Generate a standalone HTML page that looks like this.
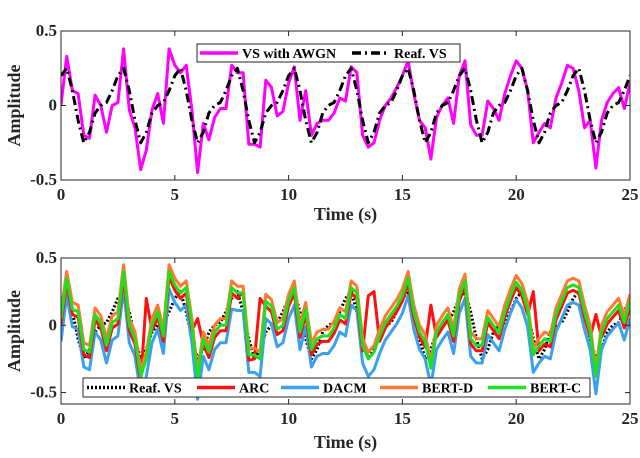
<!DOCTYPE html>
<html><head><meta charset="utf-8">
<style>
html,body{margin:0;padding:0;background:#fff;}
svg{display:block;font-family:"Liberation Serif",serif;font-weight:bold;}
</style></head>
<body>
<svg id="chart" width="640" height="458" viewBox="0 0 640 458" xmlns="http://www.w3.org/2000/svg"></svg>
<script>
const refVS = [0.20,0.25,0.10,-0.10,-0.25,-0.18,-0.05,0.00,0.02,0.10,
0.20,0.25,0.10,-0.10,-0.25,-0.18,-0.05,0.00,0.02,0.10,
0.20,0.25,0.10,-0.10,-0.25,-0.18,-0.05,0.00,0.02,0.10,
0.20,0.25,0.10,-0.10,-0.25,-0.18,-0.05,0.00,0.02,0.10,
0.20,0.25,0.10,-0.10,-0.25,-0.18,-0.05,0.00,0.02,0.10,
0.20,0.25,0.10,-0.10,-0.25,-0.18,-0.05,0.00,0.02,0.10,
0.20,0.25,0.10,-0.10,-0.25,-0.18,-0.05,0.00,0.02,0.10,
0.20,0.25,0.10,-0.10,-0.25,-0.18,-0.05,0.00,0.02,0.10,
0.20,0.25,0.10,-0.10,-0.25,-0.18,-0.05,0.00,0.02,0.10,
0.20,0.25,0.10,-0.10,-0.25,-0.18,-0.05,0.00,0.02,0.10,0.20];
const awgn = [0.00,0.33,0.10,0.08,-0.20,-0.22,0.07,0.00,-0.18,0.00,
0.02,0.38,-0.03,-0.15,-0.43,-0.30,-0.03,0.08,-0.12,0.38,
0.27,0.22,0.27,-0.03,-0.45,-0.12,-0.23,-0.08,-0.02,-0.02,
0.27,0.22,0.22,-0.26,-0.26,-0.28,0.17,0.12,-0.07,-0.04,
0.15,0.26,-0.10,0.10,-0.20,-0.12,-0.10,-0.10,-0.05,0.05,
0.03,0.26,0.22,-0.20,-0.28,-0.25,-0.10,0.00,0.05,0.12,
0.20,0.30,0.08,-0.10,-0.15,-0.36,-0.08,0.00,0.05,-0.12,
0.20,0.30,-0.13,-0.20,-0.20,0.03,-0.02,-0.10,0.08,0.20,
0.30,0.25,0.10,-0.25,-0.18,-0.12,-0.15,0.05,0.15,0.27,
0.25,0.10,-0.15,-0.10,-0.42,-0.10,0.02,0.08,0.12,-0.02,0.15];
const bertC = [0.05,0.35,0.12,0.10,-0.18,-0.20,0.08,0.02,-0.15,0.02,
0.05,0.40,0.00,-0.10,-0.38,-0.25,0.00,0.10,-0.08,0.40,
0.30,0.24,0.28,0.00,-0.40,-0.10,-0.20,-0.05,0.00,0.00,
0.28,0.24,0.24,-0.22,-0.22,-0.25,0.18,0.14,-0.03,0.00,
0.18,0.28,-0.05,0.12,-0.18,-0.10,-0.08,-0.08,-0.02,0.08,
0.05,0.28,0.24,-0.15,-0.25,-0.20,-0.08,0.02,0.08,0.14,
0.22,0.35,0.10,-0.05,-0.12,-0.32,-0.05,0.02,0.08,-0.08,
0.22,0.33,-0.10,-0.15,-0.15,0.06,0.00,-0.06,0.10,0.22,
0.32,0.26,0.12,-0.22,-0.15,-0.10,-0.12,0.08,0.18,0.28,
0.30,0.28,0.10,-0.05,-0.38,-0.05,0.05,0.10,0.15,0.02,0.18];
const bertD = [0.10,0.40,0.17,0.15,-0.13,-0.15,0.13,0.07,-0.10,0.07,
0.10,0.45,0.05,-0.05,-0.33,-0.20,0.05,0.15,-0.03,0.45,
0.35,0.29,0.33,0.05,-0.35,-0.05,-0.15,0.00,0.05,0.05,
0.33,0.29,0.29,-0.17,-0.17,-0.20,0.23,0.19,0.02,0.05,
0.23,0.33,0.00,0.17,-0.13,-0.05,-0.03,-0.03,0.03,0.13,
0.10,0.33,0.29,-0.10,-0.20,-0.15,-0.03,0.07,0.13,0.19,
0.27,0.40,0.15,0.00,-0.07,-0.27,0.00,0.07,0.13,-0.03,
0.27,0.38,-0.05,-0.10,-0.10,0.11,0.05,-0.01,0.15,0.27,
0.37,0.31,0.17,-0.17,-0.10,-0.05,-0.07,0.13,0.23,0.33,
0.35,0.33,0.15,0.00,-0.33,0.00,0.10,0.15,0.20,0.07,0.23];
const arc = [0.01,0.31,0.08,0.06,-0.22,-0.24,0.04,-0.02,-0.19,-0.02,
0.01,0.36,-0.04,-0.14,-0.42,0.20,-0.04,0.06,-0.12,0.36,
0.26,0.20,0.24,-0.04,0.05,-0.14,-0.24,-0.09,-0.04,-0.04,
0.24,0.20,0.25,-0.26,-0.25,0.20,0.14,0.10,-0.07,-0.04,
0.14,0.24,-0.09,0.08,-0.22,-0.14,-0.12,-0.12,-0.06,0.04,
0.01,0.24,0.20,-0.19,0.22,0.25,-0.12,-0.02,0.04,0.10,
0.18,0.31,0.06,-0.09,-0.16,0.15,-0.09,-0.02,0.04,-0.12,
0.18,0.29,-0.14,-0.19,-0.19,0.02,-0.04,-0.10,0.06,0.18,
0.28,0.22,0.08,0.25,-0.19,-0.14,-0.16,0.04,0.14,0.24,
0.26,0.24,0.06,-0.09,0.08,-0.09,0.01,0.06,0.11,-0.02,0.14];
const dacm = [-0.12,0.22,-0.01,-0.03,-0.31,-0.33,-0.05,-0.11,-0.28,-0.11,
-0.08,0.27,-0.13,-0.23,-0.51,-0.38,-0.13,-0.03,-0.21,0.27,
0.17,0.11,0.15,-0.13,-0.55,-0.23,-0.33,-0.18,-0.13,-0.13,
0.12,0.11,0.11,-0.35,-0.35,-0.38,0.05,0.01,-0.16,-0.13,
0.05,0.15,-0.18,-0.01,-0.31,-0.23,-0.21,-0.21,-0.15,-0.05,
-0.08,0.15,0.11,-0.28,-0.38,-0.33,-0.21,-0.11,-0.05,0.01,
0.09,0.22,-0.03,-0.18,-0.25,-0.45,-0.18,-0.11,-0.05,-0.21,
0.09,0.20,-0.23,-0.28,-0.28,-0.07,-0.13,-0.19,-0.03,0.09,
0.19,0.13,-0.01,-0.35,-0.28,-0.23,-0.25,-0.05,0.05,0.15,
0.17,0.15,-0.03,-0.18,-0.51,-0.18,-0.08,-0.03,0.02,-0.11,0.05];
const dt = 0.25;
const xTicks = [0,5,10,15,20,25];
const yTicks = [-0.5,0,0.5];
const yTickLabels = ["-0.5","0","0.5"];

const NS="http://www.w3.org/2000/svg";
const svg=document.getElementById('chart');
function mk(tag,attrs,parent){const e=document.createElementNS(NS,tag);for(const k in attrs)e.setAttribute(k,attrs[k]);(parent||svg).appendChild(e);return e;}

function panel(name,L,R,T,B,ymin,ymax,series,legend,xlabelY){
  const g=mk('g',{});
  
  
  const xs=v=>L+(v-0)/(25-0)*(R-L);
  const ys=v=>B-(v-ymin)/(ymax-ymin)*(B-T);
  const clipId=name+'-clip';
  const cp=mk('clipPath',{id:clipId},g);mk('rect',{x:L,y:T,width:R-L,height:B-T},cp);
  const lg=mk('g',{'clip-path':'url(#'+clipId+')'},g);
  series.forEach(s=>{
    let d='';s.data.forEach((v,i)=>{d+=(i?'L':'M')+xs(i*dt).toFixed(1)+','+ys(v).toFixed(1);});
    const p=mk('path',{d:d,fill:'none',stroke:s.color,'stroke-width':s.w,'stroke-dasharray':s.dash||'none','stroke-linejoin':'round'},lg);
    
    
  });
  const box=mk('rect',{x:L,y:T,width:R-L,height:B-T,fill:'none',stroke:'#262626','stroke-width':1},g);
  
  
  xTicks.forEach(t=>{
    const x=xs(t);
    mk('line',{x1:x,y1:B,x2:x,y2:B-5,stroke:'#262626'},g);
    mk('line',{x1:x,y1:T,x2:x,y2:T+5,stroke:'#262626'},g);
    const tx=mk('text',{x:x,y:B+20,'text-anchor':'middle','font-size':17,fill:'#262626'},g);
    tx.textContent=t;
    
    
  });
  yTicks.forEach((t,i)=>{
    const y=ys(t);
    mk('line',{x1:L,y1:y,x2:L+5,y2:y,stroke:'#262626'},g);
    mk('line',{x1:R,y1:y,x2:R-5,y2:y,stroke:'#262626'},g);
    const ty=mk('text',{x:L-4,y:y+5,'text-anchor':'end','font-size':17,fill:'#262626'},g);
    ty.textContent=yTickLabels[i];
    
    
  });
  const yl=mk('text',{x:0,y:0,transform:'translate(20,'+((T+B)/2)+') rotate(-90)','text-anchor':'middle','font-size':18,fill:'#262626'},g);
  yl.textContent='Amplitude';
  
  
  const xl=mk('text',{x:(L+R)/2,y:xlabelY,'text-anchor':'middle','font-size':18,fill:'#262626'},g);
  xl.textContent='Time (s)';
  
  
  const lgd=mk('g',{},g);
  
  
  mk('rect',{x:legend.x,y:legend.y,width:legend.w,height:legend.h,fill:'#fff',stroke:'#262626','stroke-width':1},lgd);
  legend.items.forEach(it=>{
    const s=series.find(q=>q.name===it.name);
    const cy=legend.y+legend.h/2;
    const ent=mk('g',{},lgd);
    
    
    mk('line',{x1:it.x,y1:cy,x2:it.x+it.len,y2:cy,stroke:s.color,'stroke-width':s.w+0.5,'stroke-dasharray':s.dash||'none'},ent);
    const t=mk('text',{x:it.x+it.len+4,y:cy+5,'font-size':14,fill:'#000'},ent);
    t.textContent=it.label;
  });
}

panel('top-panel',61,630,31,180,-0.5,0.5,[
  {name:'vs-with-awgn-line',data:awgn,color:'#ff00ff',w:3},
  {name:'reaf-vs-line',data:refVS,color:'#000',w:3,dash:'9,4,2,4'}
],{x:197,y:44,w:263,h:18,items:[
  {name:'vs-with-awgn-line',x:200,len:38,label:'VS with AWGN'},
  {name:'reaf-vs-line',x:352,len:38,label:'Reaf. VS'}
]},220);

panel('bottom-panel',61,630,258,404,-0.585,0.5,[
  {name:'reaf-vs-line',data:refVS,color:'#000',w:3,dash:'2,2'},
  {name:'dacm-line',data:dacm,color:'#3aa0f0',w:3},
  {name:'arc-line',data:arc,color:'#ff1010',w:3},
  {name:'bert-d-line',data:bertD,color:'#ff7a30',w:3},
  {name:'bert-c-line',data:bertC,color:'#1ee01e',w:3}
],{x:83,y:378,w:507,h:19,items:[
  {name:'reaf-vs-line',x:87,len:38,label:'Reaf. VS'},
  {name:'arc-line',x:197,len:38,label:'ARC'},
  {name:'dacm-line',x:281,len:38,label:'DACM'},
  {name:'bert-d-line',x:380,len:38,label:'BERT-D'},
  {name:'bert-c-line',x:488,len:38,label:'BERT-C'}
]},448);
</script>
</body></html>
